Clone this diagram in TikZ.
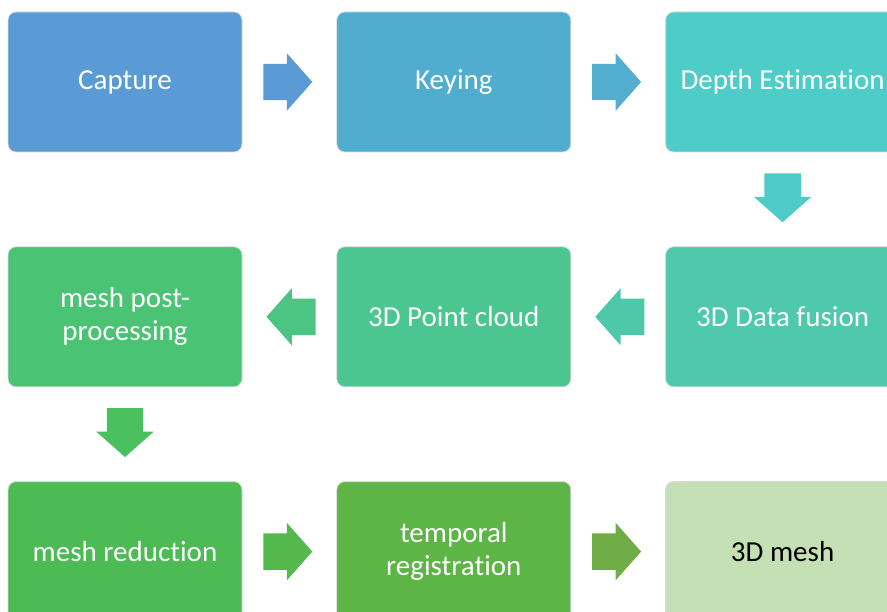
\documentclass[tikz,border=0pt]{standalone}
\usepackage{fontspec}
\setmainfont[Ligatures=CommonOff]{Carlito}
\usepackage{tikz}
\usetikzlibrary{shapes, arrows}
\usetikzlibrary{positioning}
% box fills
\definecolor{c-0-0}{HTML}{5B9BD5}
\definecolor{c-0-1}{HTML}{50ADD0}
\definecolor{c-0-2}{HTML}{4ECCC8}
\definecolor{c-1-2}{HTML}{4EC9AC}
\definecolor{c-1-1}{HTML}{4CC690}
\definecolor{c-1-0}{HTML}{4BC374}
\definecolor{c-2-0}{HTML}{4CBB53}
\definecolor{c-2-1}{HTML}{5DB546}
\definecolor{c-2-2}{HTML}{C5E0B4}
% arrow fills
\definecolor{a-0}{HTML}{5B9BD5}
\definecolor{a-1}{HTML}{52ADCF}
\definecolor{a-2}{HTML}{4FCAC7}
\definecolor{a-3}{HTML}{4DC8A8}
\definecolor{a-4}{HTML}{4CC582}
\definecolor{a-5}{HTML}{4BC05E}
\definecolor{a-6}{HTML}{55B84C}
\definecolor{a-7}{HTML}{70AD47}
\tikzstyle{box} = [rectangle, rounded corners = 8, minimum width = 234,
  minimum height = 140, draw = black!15, line width = 0.8, text = white,
  text centered, align = center, font = \fontsize{29}{33}\selectfont]
\tikzstyle{arr} = [
  single arrow, single arrow head extend = 10.5,
  single arrow tip angle = 97, minimum height = 49,
  inner sep = 0, sloped, allow upside down, pos = 0.22, anchor = tail
]
\newcommand{\shaft}{\rule{0pt}{36pt}}

\begin{document}
\begin{tikzpicture}[x = 1pt, y = 1pt, node distance = 94]
      \useasboundingbox (0, 0) rectangle (887, -612);
      \clip (0, 0) rectangle (887, -612);
      % 0-0
      \node [box, fill = c-0-0] (box-0-0) at (125, -82) {Capture};
      % 0-1
      \node [box, fill = c-0-1, right = of box-0-0] (box-0-1) {Keying};
      % 0-2
      \node [box, fill = c-0-2, right = of box-0-1] (box-0-2) {Depth Estimation};
      % 1-2
      \node [box, fill = c-1-2, below = of box-0-2] (box-1-2) {3D Data fusion};
      % 1-1
      \node [box, fill = c-1-1, left = of box-1-2] (box-1-1) {3D Point cloud};
      % 1-0
      \node [box, fill = c-1-0, left = of box-1-1] (box-1-0) {mesh post-\\processing};
      % 2-0
      \node [box, fill = c-2-0, below = of box-1-0] (box-2-0) {mesh reduction};
      % 2-1
      \node [box, fill = c-2-1, right = of box-2-0] (box-2-1) {temporal\\registration};
      % 2-2
      \node [box, fill = c-2-2, text = black, right = of box-2-1] (box-2-2) {3D mesh};

      \path (box-0-0.east) -- node [arr, fill = a-0] (arr-0) {\shaft} (box-0-1.west);
      \path (box-0-1.east) -- node [arr, fill = a-1] (arr-1) {\shaft} (box-0-2.west);
      \path (box-0-2.south) -- node [arr, fill = a-2] (arr-2) {\shaft} (box-1-2.north);
      \path (box-1-2.west) -- node [arr, fill = a-3] (arr-3) {\shaft} (box-1-1.east);
      \path (box-1-1.west) -- node [arr, fill = a-4] (arr-4) {\shaft} (box-1-0.east);
      \path (box-1-0.south) -- node [arr, fill = a-5] (arr-5) {\shaft} (box-2-0.north);
      \path (box-2-0.east) -- node [arr, fill = a-6] (arr-6) {\shaft} (box-2-1.west);
      \path (box-2-1.east) -- node [arr, fill = a-7] (arr-7) {\shaft} (box-2-2.west);
    \end{tikzpicture}
\end{document}
